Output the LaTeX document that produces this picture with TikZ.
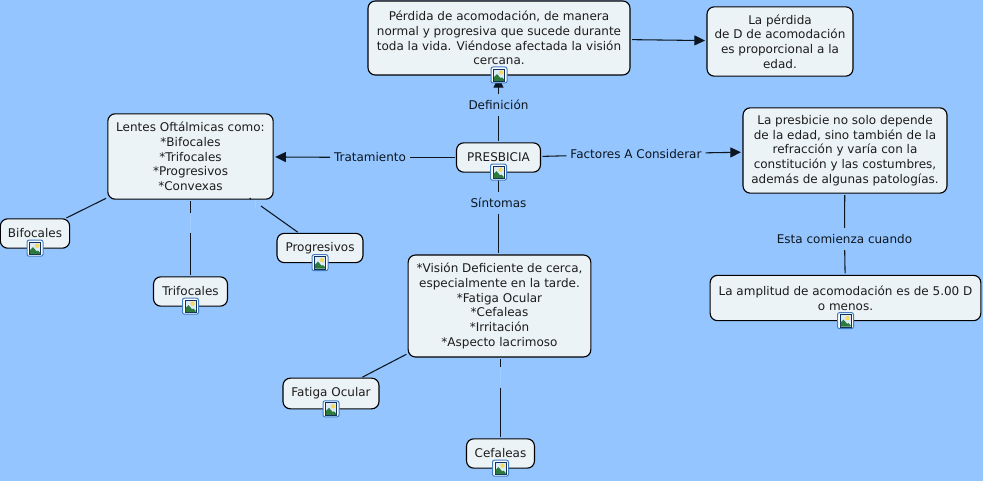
\documentclass[tikz,border=0pt]{standalone}
\usepackage{fontspec}
\setsansfont{DejaVu Sans}
\definecolor{Bgcol}{HTML}{94C5FF}
\definecolor{Boxcol}{HTML}{ECF3F6}
\definecolor{Textcol}{HTML}{1C1C1C}
\definecolor{Linkcol}{HTML}{0C1620}
\definecolor{Faintcol}{HTML}{A3CDFF}
\definecolor{Iconblue}{HTML}{3F7CC4}
\definecolor{Iconnavy}{HTML}{12305C}
\definecolor{Iconsky}{HTML}{DCEBF8}
\definecolor{Icongreen}{HTML}{2C7A3C}
\definecolor{Iconsun}{HTML}{F4D95A}
\usetikzlibrary{arrows.meta}
\tikzset{
    >={Triangle[length=8pt,width=7.5pt]},
    font=\sffamily\fontsize{9}{11}\selectfont,
    concept/.style={draw=black, fill=Boxcol, line width=0.85pt, rounded corners=5.5pt, align=center, text=Textcol, inner sep=0pt, outer sep=0pt},
    linklabel/.style={text=Linkcol, inner xsep=1.5pt, inner ysep=0pt, minimum height=13.5pt, outer sep=0pt},
    blanklabel/.style={inner sep=0pt, outer sep=0pt},
    link/.style={draw=Linkcol, line width=0.8pt, shorten <=1.5pt, shorten >=1.5pt},
    faint/.style={draw=Faintcol, line width=0.7pt}
}

\begin{document}
\begin{tikzpicture}[x=0.75pt, y=-0.75pt]
    % Background
    \fill[Bgcol] (0,0) rectangle (983,481);
    \useasboundingbox (0,0) rectangle (983,481);

    % Concepts
    \node[concept, minimum width=196.5pt, minimum height=55.5pt] (Perdida) at (499,38) {Pérdida de acomodación, de manera\\normal y progresiva que sucede durante\\toda la vida. Viéndose afectada la visión\\cercana.};
    \node[concept, minimum width=109.5pt, minimum height=52pt] (Edad) at (780,41.5) {La pérdida\\de D de acomodación\\es proporcional a la\\edad.};
    \node[concept, minimum width=63pt, minimum height=22pt] (Presbicia) at (498.5,157.5) {PRESBICIA};
    \node[concept, minimum width=124pt, minimum height=64pt] (Lentes) at (190.5,156.5) {Lentes Oftálmicas como:\\*Bifocales\\*Trifocales\\*Progresivos\\*Convexas};
    \node[concept, minimum width=153pt, minimum height=64pt] (Edadref) at (845,150.5) {La presbicie no solo depende\\de la edad, sino también de la\\refracción y varía con la\\constitución y las costumbres,\\además de algunas patologías.};
    \node[concept, minimum width=203pt, minimum height=34pt] (Amplitud) at (845.5,298) {La amplitud de acomodación es de 5.00 D\\o menos.};
    \node[concept, minimum width=137pt, minimum height=76.5pt] (Sintomas) at (499.5,306) {*Visión Deficiente de cerca,\\especialmente en la tarde.\\*Fatiga Ocular\\*Cefaleas\\*Irritación\\*Aspecto lacrimoso};
    \node[concept, minimum width=52pt, minimum height=22pt] (Bifocales) at (35,233.5) {Bifocales};
    \node[concept, minimum width=55.5pt, minimum height=22pt] (Trifocales) at (190.5,291.5) {Trifocales};
    \node[concept, minimum width=64.5pt, minimum height=22pt] (Progresivos) at (320,248) {Progresivos};
    \node[concept, minimum width=72pt, minimum height=23pt] (Fatiga) at (331,393.5) {Fatiga Ocular};
    \node[concept, minimum width=51pt, minimum height=22pt] (Cefaleas) at (500.5,453.5) {Cefaleas};

    % Link labels
    \node[linklabel] (Definicion) at (498.5,105) {Definición};
    \node[linklabel] (Tratamiento) at (370,157.5) {Tratamiento};
    \node[linklabel] (Factores) at (636,154) {Factores A Considerar};
    \node[linklabel] (Sintlabel) at (498.5,203) {Síntomas};
    \node[linklabel] (Comienza) at (844.5,239) {Esta comienza cuando};

    % Empty link labels
    \node[blanklabel, minimum width=2pt, minimum height=12pt] (Blanktri) at (190.5,223) {};
    \node[blanklabel, minimum width=5pt, minimum height=6pt] (Blankpro) at (256,202.5) {};
    \node[blanklabel, minimum width=2pt, minimum height=12pt] (Blankcef) at (500.5,377.5) {};
    \draw[faint] (Blanktri.north) -- (Blanktri.south);
    \draw[faint] (255.5,200) -- (255.5,208);
    \draw[faint] (Blankcef.north) -- (Blankcef.south);

    % Arrows
    \draw[link, ->] (Definicion) -- (Definicion |- Perdida.south);
    \draw[link, ->] (Perdida) -- (Edad);
    \draw[link, ->] (Tratamiento) -- (Lentes);
    \draw[link, ->] (Factores) -- (Edadref);

    % Plain connectors
    \draw[link] (Presbicia) -- (Definicion);
    \draw[link] (Presbicia) -- (Tratamiento);
    \draw[link] (Presbicia) -- (Factores);
    \draw[link] (Presbicia) -- (Sintlabel);
    \draw[link] (Sintlabel) -- (Sintlabel |- Sintomas.north);
    \draw[link] (Edadref) -- (Comienza);
    \draw[link] (Comienza) -- (Amplitud);
    \draw[link] (Lentes) -- (Bifocales);
    \draw[link] (Lentes.south) -- (Blanktri.north);
    \draw[link] (Blanktri.south) -- (Trifocales.north);
    \draw[link] (Lentes) -- (Blankpro);
    \draw[link] (Blankpro) -- (Progresivos);
    \draw[link] (Sintomas) -- (Fatiga);
    \draw[link] (Blankcef |- Sintomas.south) -- (Blankcef.north);
    \draw[link] (Blankcef.south) -- (Cefaleas.north);

    % Image icons
    \foreach \nd in {Perdida, Presbicia, Amplitud, Bifocales, Trifocales, Progresivos, Fatiga, Cefaleas} {
        \begin{scope}[shift={(\nd.south)}]
            \filldraw[fill=white, draw=Iconblue, line width=0.75pt, rounded corners=1.5pt] (-8,-8) rectangle (8,8);
            \filldraw[fill=Iconsky, draw=Iconnavy, line width=0.7pt] (-5.5,-6) rectangle (5.5,6.5);
            \fill[Iconsun] (2,-2.5) circle (2.2);
            \fill[Icongreen] (-5,6) -- (-5,2) -- (-2,-1) -- (1.5,3) -- (3,2.5) -- (5,4.5) -- (5,6) -- cycle;
        \end{scope}
    }
\end{tikzpicture}
\end{document}
